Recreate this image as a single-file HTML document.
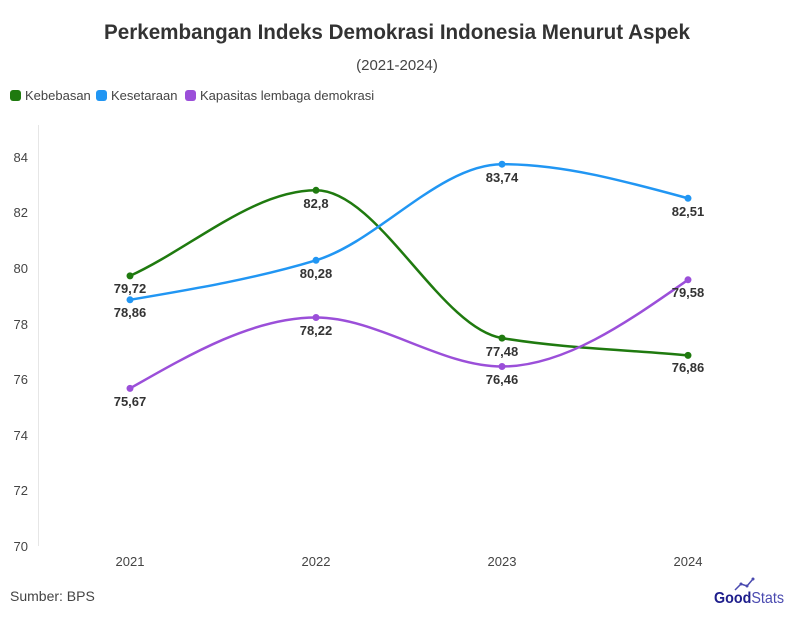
<!DOCTYPE html>
<html><head><style>
body{margin:0;width:794px;height:617px;background:#fff;font-family:"Liberation Sans",sans-serif;overflow:hidden}
</style></head><body>
<svg width="794" height="617" xmlns="http://www.w3.org/2000/svg" font-family="Liberation Sans, sans-serif">
<text x="397" y="39" text-anchor="middle" font-size="21" font-weight="bold" fill="#333" textLength="586" lengthAdjust="spacingAndGlyphs">Perkembangan Indeks Demokrasi Indonesia Menurut Aspek</text>
<text x="397" y="70" text-anchor="middle" font-size="15" fill="#444">(2021-2024)</text>
<rect x="10" y="90" width="11" height="11" rx="3" fill="#1f7a0f"/><text x="25" y="100" font-size="13" fill="#444">Kebebasan</text>
<rect x="96" y="90" width="11" height="11" rx="3" fill="#2196f3"/><text x="111" y="100" font-size="13" fill="#444">Kesetaraan</text>
<rect x="185" y="90" width="11" height="11" rx="3" fill="#9b4fd9"/><text x="200" y="100" font-size="13" fill="#444">Kapasitas lembaga demokrasi</text>
<line x1="38.5" y1="125" x2="38.5" y2="546" stroke="#e6e6e6"/>
<g font-size="13" fill="#444" text-anchor="end">
<text x="28" y="162">84</text><text x="28" y="217">82</text><text x="28" y="273">80</text><text x="28" y="329">78</text><text x="28" y="384">76</text><text x="28" y="440">74</text><text x="28" y="495">72</text><text x="28" y="551">70</text>
</g>
<g font-size="13" fill="#444" text-anchor="middle">
<text x="130" y="566">2021</text><text x="316" y="566">2022</text><text x="502" y="566">2023</text><text x="688" y="566">2024</text>
</g>
<g fill="none" stroke-width="2.5">
<path d="M130 275.9 C192 247.4 254 190.3 316 190.3 C378 190.3 440 327.8 502 338.1 C564 348.4 626 349.6 688 355.4" stroke="#1f7a0f"/>
<path d="M130 299.8 C192 289.3 254 279 316 260.3 C378 241.6 440 164.2 502 164.2 C564 164.2 626 181.5 688 198.3" stroke="#2196f3"/>
<path d="M130 388.4 C192 353 254 317.5 316 317.5 C378 317.5 440 366.5 502 366.5 C564 366.5 626 323.2 688 279.8" stroke="#9b4fd9"/>
</g>
<g fill="#1f7a0f"><circle cx="130" cy="275.9" r="3.5"/><circle cx="316" cy="190.3" r="3.5"/><circle cx="502" cy="338.1" r="3.5"/><circle cx="688" cy="355.4" r="3.5"/></g>
<g fill="#2196f3"><circle cx="130" cy="299.8" r="3.5"/><circle cx="316" cy="260.3" r="3.5"/><circle cx="502" cy="164.2" r="3.5"/><circle cx="688" cy="198.3" r="3.5"/></g>
<g fill="#9b4fd9"><circle cx="130" cy="388.4" r="3.5"/><circle cx="316" cy="317.5" r="3.5"/><circle cx="502" cy="366.5" r="3.5"/><circle cx="688" cy="279.8" r="3.5"/></g>
<g font-size="13" font-weight="bold" fill="#333" text-anchor="middle">
<text x="130" y="293">79,72</text><text x="316" y="208">82,8</text><text x="502" y="356">77,48</text><text x="688" y="372">76,86</text>
<text x="130" y="317">78,86</text><text x="316" y="278">80,28</text><text x="502" y="182">83,74</text><text x="688" y="216">82,51</text>
<text x="130" y="406">75,67</text><text x="316" y="335">78,22</text><text x="502" y="384">76,46</text><text x="688" y="297">79,58</text>
</g>
<text x="10" y="601" font-size="14" fill="#444">Sumber: BPS</text>
<text x="714" y="603" font-size="16" font-weight="bold" fill="#1e1e8c" textLength="70" lengthAdjust="spacingAndGlyphs">Good<tspan font-weight="normal" fill="#4a4ab0">Stats</tspan></text>
<polyline points="735,590 741,584 747,586 753,579" fill="none" stroke="#4a4ab0" stroke-width="1.5"/>
<circle cx="741" cy="584" r="1.5" fill="#4a4ab0"/><circle cx="747" cy="586" r="1.5" fill="#4a4ab0"/><circle cx="753" cy="579" r="1.5" fill="#4a4ab0"/>
</svg>
</body></html>
